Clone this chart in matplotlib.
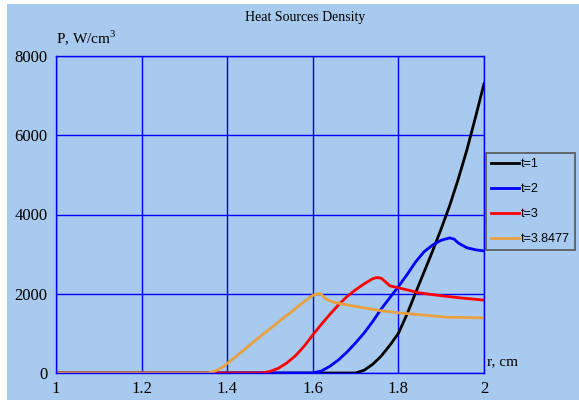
import matplotlib.pyplot as plt
from matplotlib.patches import Rectangle

plt.rcParams['mathtext.fontset'] = 'custom'
plt.rcParams['mathtext.rm'] = 'Liberation Serif'

# data
r1 = [1.0, 1.70, 1.72, 1.74, 1.76, 1.78, 1.80, 1.82, 1.84, 1.86, 1.88, 1.90, 1.92, 1.94, 1.96, 1.98, 2.0]
p1 = [0, 0, 70, 220, 430, 700, 1000, 1480, 2020, 2550, 3080, 3640, 4230, 4900, 5630, 6450, 7300]

r2 = [1.0, 1.60, 1.62, 1.64, 1.66, 1.68, 1.70, 1.72, 1.74, 1.76, 1.78, 1.80, 1.82, 1.84, 1.86, 1.88, 1.90,
      1.92, 1.93, 1.94, 1.96, 1.98, 2.0]
p2 = [0, 0, 50, 170, 330, 530, 760, 1010, 1300, 1620, 1900, 2180, 2480, 2800, 3060, 3230, 3350,
      3410, 3380, 3280, 3160, 3110, 3080]

r3 = [1.0, 1.48, 1.50, 1.52, 1.54, 1.56, 1.58, 1.60, 1.62, 1.64, 1.66, 1.68, 1.70, 1.72, 1.74, 1.75,
      1.76, 1.77, 1.78, 1.80, 1.85, 1.90, 1.95, 2.0]
p3 = [0, 0, 40, 120, 260, 440, 680, 960, 1230, 1480, 1720, 1930, 2100, 2250, 2380, 2410,
      2390, 2300, 2200, 2150, 2020, 1950, 1890, 1840]

r4 = [1.0, 1.355, 1.37, 1.39, 1.41, 1.43, 1.45, 1.47, 1.49, 1.51, 1.53, 1.55, 1.57, 1.59, 1.60, 1.61,
      1.62, 1.63, 1.65, 1.70, 1.76, 1.80, 1.85, 1.91, 1.95, 2.0]
p4 = [0, 0, 40, 150, 330, 500, 680, 860, 1030, 1200, 1380, 1540, 1720, 1880, 1960, 2000,
      1990, 1870, 1780, 1680, 1570, 1520, 1470, 1410, 1400, 1390]

labels = ['t=1', 't=2', 't=3', 't=3.8477']
colors = ['black', '#0000FF', '#FF0000', '#E8A040']
xticks = [1, 1.2, 1.4, 1.6, 1.8, 2]
yticks = [0, 2000, 4000, 6000, 8000]

bg = '#A8CAEE'
fig = plt.figure(figsize=(5.79, 4.03), dpi=100)
fig.patch.set_facecolor('white')
fig.patches.append(Rectangle((7 / 579, 3 / 403), 1, 396 / 403, transform=fig.transFigure,
                             facecolor=bg, edgecolor='none', zorder=-5))

ax = fig.add_axes([56 / 579, 30 / 403, 428 / 579, 317 / 403])
ax.set_zorder(2)
ax.set_facecolor(bg)

for r, p, lab, c in zip([r1, r2, r3, r4], [p1, p2, p3, p4], labels, colors):
    ax.plot(r, p, color=c, lw=2, label=lab)

ax.set_xlim(1, 2)
ax.set_ylim(0, 8000)
ax.set_xticks(xticks)
ax.set_xticklabels(['1', '1.2', '1.4', '1.6', '1.8', '2'])
ax.set_yticks(yticks)
ax.grid(True, color='#0000FF', lw=1)
ax.set_axisbelow(True)
for s in ax.spines.values():
    s.set_color('#0000FF')
    s.set_linewidth(1)
ax.tick_params(length=0, labelsize=12, pad=6)
for t in ax.get_xticklabels() + ax.get_yticklabels():
    t.set_family('Liberation Serif')

fig.text(305 / 579, 1 - 18 / 403, 'Heat Sources Density', ha='center', va='center',
         family='Liberation Serif', fontsize=10)
fig.text(56 / 579, 1 - 38 / 403, r'P, W/cm$^3$', ha='left', va='center',
         family='Liberation Serif', fontsize=11)
fig.text(487 / 579, 1 - 362 / 403, 'r, cm', ha='left', va='center',
         family='Liberation Serif', fontsize=11)

leg = ax.legend(loc='upper left', bbox_to_anchor=(486 / 579, 1 - 153 / 403),
                bbox_transform=fig.transFigure, frameon=True, fancybox=False,
                facecolor=bg, edgecolor='#555555', framealpha=1, borderaxespad=0,
                borderpad=0.4, handlelength=2.2, handletextpad=0.2, labelspacing=1.05,
                prop={'family': 'Liberation Sans', 'size': 9})
leg.get_frame().set_linewidth(1.2)

fig.savefig('out.png', dpi=100)
